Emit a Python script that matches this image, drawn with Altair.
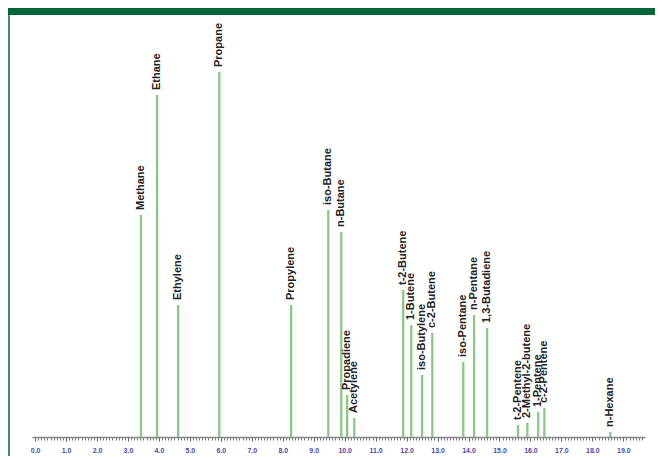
import altair as alt
import pandas as pd

# Retention times (min) and peak heights (arbitrary units)
names = ["Methane", "Ethane", "Ethylene", "Propane", "Propylene", "iso-Butane",
         "n-Butane", "Propadiene", "Acetylene", "t-2-Butene", "1-Butene",
         "iso-Butylene", "c-2-Butene", "iso-Pentane", "n-Pentane",
         "1,3-Butadiene", "t-2-Pentene", "2-Methyl-2-butene", "1-Pentene",
         "c-2-Pentene", "n-Hexane"]
times = [3.42, 3.94, 4.62, 5.95, 8.27, 9.47, 9.89, 10.08, 10.31, 11.89, 12.15,
         12.50, 12.83, 13.83, 14.18, 14.60, 15.60, 15.90, 16.25, 16.45, 18.58]
heights = [222, 342, 132, 365, 132, 227, 205, 42, 19, 147, 112,
           62, 104, 75, 122, 109, 12, 14, 25, 29, 5]

major_ticks = [float(i) for i in range(0, 20)]
minor_ticks = [round(i * 0.1, 1) for i in range(0, 197)]

df = pd.DataFrame({"name": names, "time": times, "height": heights})

W, H = 613, 417
xscale = alt.Scale(domain=[-0.1, 19.7], nice=False, zero=False)
yscale = alt.Scale(domain=[0, 417], nice=False)

peaks = alt.Chart(df).mark_rule(color="#8cc788", strokeWidth=2.3).encode(
    x=alt.X("time:Q", scale=xscale, title=None,
            axis=alt.Axis(values=minor_ticks, labels=False, tickSize=3,
                          tickColor="#777777", domainColor="#888888",
                          domainWidth=1.5, grid=False, orient="bottom")),
    y=alt.Y("height:Q", scale=yscale, axis=None),
    y2=alt.datum(0),
)

labels = alt.Chart(df).mark_text(
    angle=270, align="left", baseline="middle", dx=5,
    font="Liberation Sans", fontSize=11, fontWeight="bold", color="#222222"
).encode(
    x=alt.X("time:Q", scale=xscale, title=None,
            axis=alt.Axis(values=major_ticks, format=".1f", tickSize=4,
                          tickColor="#666666", domain=False, grid=False,
                          labelColor="#4b4ba8", labelFontSize=7,
                          labelFontWeight="bold", labelFont="Liberation Sans",
                          labelPadding=5, orient="bottom")),
    y=alt.Y("height:Q", scale=yscale, axis=None),
    text="name:N",
)

deco = alt.Data(values=[{"k": 1}])
header = alt.Chart(deco).mark_rect(color="#00663a").encode(
    x=alt.value(-24), x2=alt.value(623), y=alt.value(-12), y2=alt.value(-5)
)
leftline = alt.Chart(deco).mark_rule(color="#3f8f66", strokeWidth=2).encode(
    x=alt.value(-23), y=alt.value(-5), y2=alt.value(436)
)

chart = alt.layer(header, leftline, peaks, labels).resolve_axis(
    x="independent"
).properties(
    width=W, height=H,
    padding={"left": 0, "top": 0, "right": 0, "bottom": 0},
).configure_view(stroke=None)

chart.save("out.html", embed_options={"renderer": "svg", "actions": False})
